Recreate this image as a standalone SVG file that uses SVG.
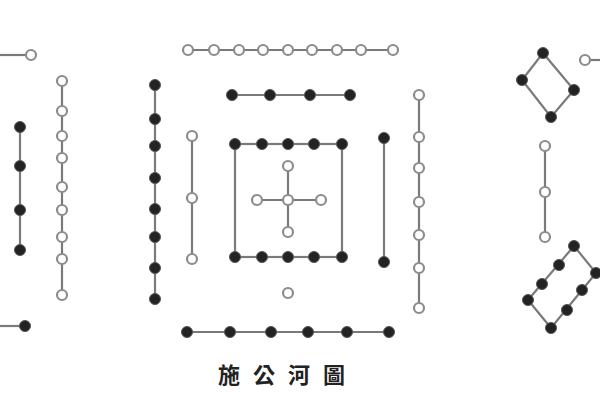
<svg xmlns="http://www.w3.org/2000/svg" width="600" height="400" viewBox="0 0 600 400">
<style>
.ln{stroke:#7a7a7a;stroke-width:2.2;fill:none}
.o{fill:#fff;stroke:#8c8c8c;stroke-width:2.2}
.f{fill:#232323;stroke:#555;stroke-width:1}
.t{font-family:"Noto Sans CJK TC","Noto Sans CJK SC",sans-serif;font-size:22px;font-weight:700;fill:#222;letter-spacing:13px}
</style>
<rect width="600" height="400" fill="#fff"/>
<g id="connectors">
<line class="ln" x1="0" y1="55" x2="31" y2="55"/>
<line class="ln" x1="0" y1="326" x2="25" y2="326"/>
<line class="ln" x1="20" y1="127" x2="20" y2="250"/>
<line class="ln" x1="62" y1="81" x2="62" y2="295"/>
<line class="ln" x1="188" y1="50" x2="393" y2="50"/>
<line class="ln" x1="232" y1="95" x2="350" y2="95"/>
<line class="ln" x1="155" y1="85" x2="155" y2="299"/>
<line class="ln" x1="192" y1="136" x2="192" y2="259"/>
<rect class="ln" x="235" y="144" width="107" height="113"/>
<line class="ln" x1="257" y1="200" x2="321" y2="200"/>
<line class="ln" x1="288" y1="166" x2="288" y2="232"/>
<line class="ln" x1="384" y1="138" x2="384" y2="262"/>
<line class="ln" x1="187" y1="332" x2="389" y2="332"/>
<line class="ln" x1="419" y1="95" x2="419" y2="308"/>
<polygon class="ln" points="543,53 574,90 551,117 522,80"/>
<line class="ln" x1="585" y1="60" x2="600" y2="60"/>
<line class="ln" x1="545" y1="146" x2="545" y2="237"/>
<polygon class="ln" points="574,246 596,273 551,328 528,300"/>
</g>
<g id="node-left-top"><circle class="o" cx="31" cy="55" r="5"/></g>
<g id="node-left-bottom"><circle class="f" cx="25" cy="326" r="5.5"/></g>
<g id="node-left-filled">
<circle class="f" cx="20" cy="127" r="5.5"/><circle class="f" cx="20" cy="166" r="5.5"/><circle class="f" cx="20" cy="210" r="5.5"/><circle class="f" cx="20" cy="250" r="5.5"/>
</g>
<g id="node-left-open">
<circle class="o" cx="62" cy="81" r="5"/><circle class="o" cx="62" cy="111" r="5"/><circle class="o" cx="62" cy="136" r="5"/><circle class="o" cx="62" cy="158" r="5"/><circle class="o" cx="62" cy="187" r="5"/><circle class="o" cx="62" cy="210" r="5"/><circle class="o" cx="62" cy="237" r="5"/><circle class="o" cx="62" cy="259" r="5"/><circle class="o" cx="62" cy="295" r="5"/>
</g>
<g id="node-top-open">
<circle class="o" cx="188" cy="50" r="5"/><circle class="o" cx="214" cy="50" r="5"/><circle class="o" cx="239" cy="50" r="5"/><circle class="o" cx="263" cy="50" r="5"/><circle class="o" cx="288" cy="50" r="5"/><circle class="o" cx="312" cy="50" r="5"/><circle class="o" cx="337" cy="50" r="5"/><circle class="o" cx="361" cy="50" r="5"/><circle class="o" cx="393" cy="50" r="5"/>
</g>
<g id="node-top-filled">
<circle class="f" cx="232" cy="95" r="5.5"/><circle class="f" cx="270" cy="95" r="5.5"/><circle class="f" cx="310" cy="95" r="5.5"/><circle class="f" cx="350" cy="95" r="5.5"/>
</g>
<g id="node-mid-left-filled">
<circle class="f" cx="155" cy="85" r="5.5"/><circle class="f" cx="155" cy="119" r="5.5"/><circle class="f" cx="155" cy="146" r="5.5"/><circle class="f" cx="155" cy="178" r="5.5"/><circle class="f" cx="155" cy="209" r="5.5"/><circle class="f" cx="155" cy="237" r="5.5"/><circle class="f" cx="155" cy="268" r="5.5"/><circle class="f" cx="155" cy="299" r="5.5"/>
</g>
<g id="node-mid-left-open">
<circle class="o" cx="192" cy="136" r="5"/><circle class="o" cx="192" cy="198" r="5"/><circle class="o" cx="192" cy="259" r="5"/>
</g>
<g id="node-square">
<circle class="f" cx="235" cy="144" r="5.5"/><circle class="f" cx="262" cy="144" r="5.5"/><circle class="f" cx="288" cy="144" r="5.5"/><circle class="f" cx="314" cy="144" r="5.5"/><circle class="f" cx="342" cy="144" r="5.5"/>
<circle class="f" cx="235" cy="257" r="5.5"/><circle class="f" cx="262" cy="257" r="5.5"/><circle class="f" cx="288" cy="257" r="5.5"/><circle class="f" cx="314" cy="257" r="5.5"/><circle class="f" cx="342" cy="257" r="5.5"/>
</g>
<g id="node-cross">
<circle class="o" cx="288" cy="200" r="5"/><circle class="o" cx="257" cy="200" r="5"/><circle class="o" cx="321" cy="200" r="5"/><circle class="o" cx="288" cy="166" r="5"/><circle class="o" cx="288" cy="232" r="5"/>
</g>
<g id="node-single"><circle class="o" cx="288" cy="293" r="5"/></g>
<g id="node-mid-right-filled">
<circle class="f" cx="384" cy="138" r="5.5"/><circle class="f" cx="384" cy="262" r="5.5"/>
</g>
<g id="node-bottom-filled">
<circle class="f" cx="187" cy="332" r="5.5"/><circle class="f" cx="230" cy="332" r="5.5"/><circle class="f" cx="271" cy="332" r="5.5"/><circle class="f" cx="308" cy="332" r="5.5"/><circle class="f" cx="347" cy="332" r="5.5"/><circle class="f" cx="389" cy="332" r="5.5"/>
</g>
<g id="node-right-open">
<circle class="o" cx="419" cy="95" r="5"/><circle class="o" cx="419" cy="137" r="5"/><circle class="o" cx="419" cy="168" r="5"/><circle class="o" cx="419" cy="202" r="5"/><circle class="o" cx="419" cy="235" r="5"/><circle class="o" cx="419" cy="268" r="5"/><circle class="o" cx="419" cy="308" r="5"/>
</g>
<g id="node-diamond">
<circle class="f" cx="543" cy="53" r="5.5"/><circle class="f" cx="522" cy="80" r="5.5"/><circle class="f" cx="574" cy="90" r="5.5"/><circle class="f" cx="551" cy="117" r="5.5"/>
</g>
<g id="node-right-edge"><circle class="o" cx="585" cy="60" r="5"/></g>
<g id="node-far-right-open">
<circle class="o" cx="545" cy="146" r="5"/><circle class="o" cx="545" cy="192" r="5"/><circle class="o" cx="545" cy="237" r="5"/>
</g>
<g id="node-rect">
<circle class="f" cx="574" cy="246" r="5.5"/><circle class="f" cx="559" cy="265" r="5.5"/><circle class="f" cx="542" cy="284" r="5.5"/><circle class="f" cx="528" cy="300" r="5.5"/>
<circle class="f" cx="551" cy="328" r="5.5"/><circle class="f" cx="567" cy="310" r="5.5"/><circle class="f" cx="582" cy="290" r="5.5"/><circle class="f" cx="596" cy="273" r="5.5"/>
</g>
<text class="t" x="218" y="383">施公河圖</text>
</svg>
